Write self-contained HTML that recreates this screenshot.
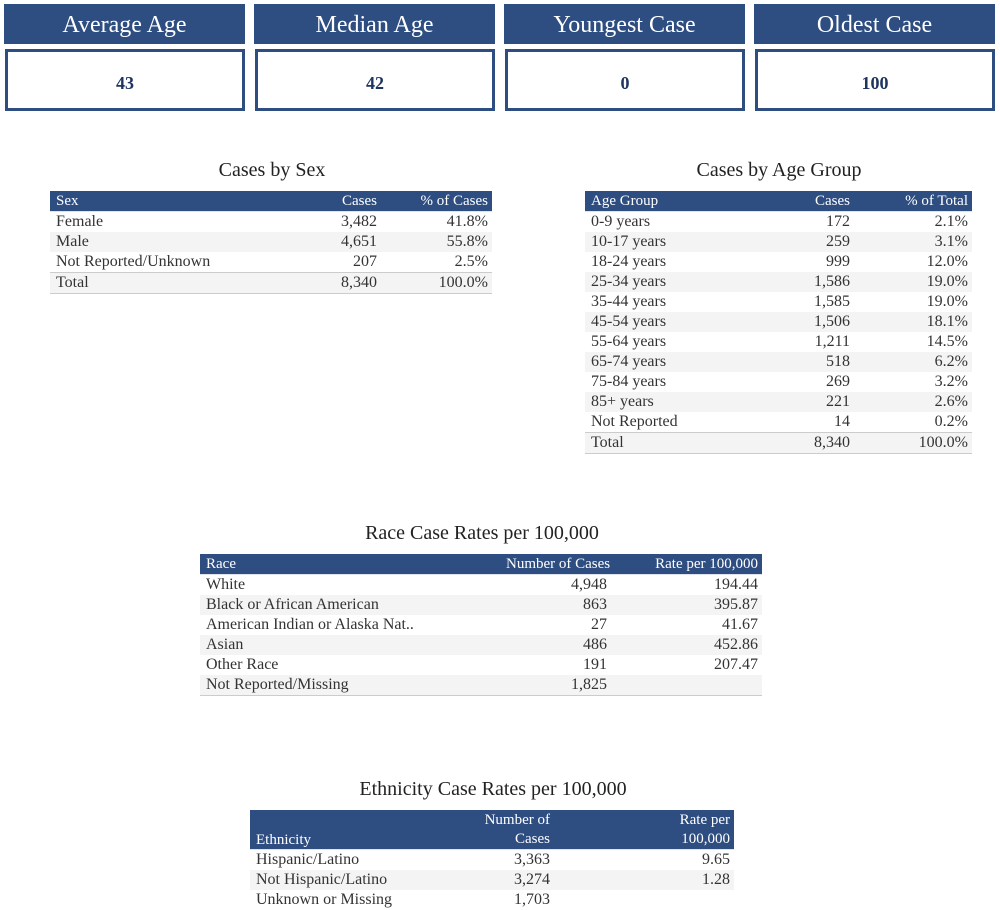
<!DOCTYPE html>
<html><head><meta charset="utf-8"><style>
body{margin:0;width:1000px;height:908px;background:#fff;position:relative;font-family:"Liberation Serif",serif;color:#333;overflow:hidden}
.h{position:absolute;top:4px;width:241px;height:40px;background:#2e4d80;color:#fff;font-size:24px;text-align:center;line-height:43px}
.v{position:absolute;top:49px;width:234px;height:56px;border:3px solid #2e4d80;color:#1f3560;font-weight:bold;font-size:18px;text-align:center;line-height:62px}
.t{position:absolute;font-size:20px;color:#222;text-align:center;width:600px}
table{position:absolute;border-collapse:collapse;table-layout:fixed;font-size:16px}
td,th{height:20px;padding:0 4px 0 6px;line-height:20px;white-space:nowrap;overflow:hidden}
th{background:#2e4d80;color:#fff;font-weight:normal;text-align:left;border-bottom:1px solid #dfe4ec;font-size:15px;overflow:visible}
td.r,th.r{text-align:right}
tr:nth-child(even) td{background:#f4f4f4}
tr.tot td{border-top:1px solid #ccc;border-bottom:1px solid #ccc}
tr.last td{border-bottom:1px solid #ccc}
</style></head><body>
<div class="h" style="left:4px">Average Age</div>
<div class="h" style="left:254px">Median Age</div>
<div class="h" style="left:504px">Youngest Case</div>
<div class="h" style="left:754px">Oldest Case</div>
<div class="v" style="left:5px">43</div>
<div class="v" style="left:255px">42</div>
<div class="v" style="left:505px">0</div>
<div class="v" style="left:755px">100</div>

<div class="t" style="left:-28px;top:159px">Cases by Sex</div>
<table style="left:50px;top:191px;width:442px">
<colgroup><col style="width:270px"><col style="width:61px"><col style="width:111px"></colgroup>
<thead><tr><th>Sex</th><th class="r">Cases</th><th class="r">% of Cases</th></tr></thead>
<tbody>
<tr><td>Female</td><td class="r">3,482</td><td class="r">41.8%</td></tr>
<tr><td>Male</td><td class="r">4,651</td><td class="r">55.8%</td></tr>
<tr><td>Not Reported/Unknown</td><td class="r">207</td><td class="r">2.5%</td></tr>
<tr class="tot"><td>Total</td><td class="r">8,340</td><td class="r">100.0%</td></tr>
</tbody></table>

<div class="t" style="left:479px;top:159px">Cases by Age Group</div>
<table style="left:585px;top:191px;width:387px">
<colgroup><col style="width:200px"><col style="width:69px"><col style="width:118px"></colgroup>
<thead><tr><th>Age Group</th><th class="r">Cases</th><th class="r">% of Total</th></tr></thead>
<tbody>
<tr><td>0-9 years</td><td class="r">172</td><td class="r">2.1%</td></tr>
<tr><td>10-17 years</td><td class="r">259</td><td class="r">3.1%</td></tr>
<tr><td>18-24 years</td><td class="r">999</td><td class="r">12.0%</td></tr>
<tr><td>25-34 years</td><td class="r">1,586</td><td class="r">19.0%</td></tr>
<tr><td>35-44 years</td><td class="r">1,585</td><td class="r">19.0%</td></tr>
<tr><td>45-54 years</td><td class="r">1,506</td><td class="r">18.1%</td></tr>
<tr><td>55-64 years</td><td class="r">1,211</td><td class="r">14.5%</td></tr>
<tr><td>65-74 years</td><td class="r">518</td><td class="r">6.2%</td></tr>
<tr><td>75-84 years</td><td class="r">269</td><td class="r">3.2%</td></tr>
<tr><td>85+ years</td><td class="r">221</td><td class="r">2.6%</td></tr>
<tr><td>Not Reported</td><td class="r">14</td><td class="r">0.2%</td></tr>
<tr class="tot"><td>Total</td><td class="r">8,340</td><td class="r">100.0%</td></tr>
</tbody></table>

<div class="t" style="left:182px;top:522px">Race Case Rates per 100,000</div>
<table style="left:200px;top:554px;width:562px">
<colgroup><col style="width:300px"><col style="width:111px"><col style="width:151px"></colgroup>
<thead><tr><th>Race</th><th class="r">Number of Cases</th><th class="r">Rate per 100,000</th></tr></thead>
<tbody>
<tr><td>White</td><td class="r">4,948</td><td class="r">194.44</td></tr>
<tr><td>Black or African American</td><td class="r">863</td><td class="r">395.87</td></tr>
<tr><td>American Indian or Alaska Nat..</td><td class="r">27</td><td class="r">41.67</td></tr>
<tr><td>Asian</td><td class="r">486</td><td class="r">452.86</td></tr>
<tr><td>Other Race</td><td class="r">191</td><td class="r">207.47</td></tr>
<tr class="last"><td>Not Reported/Missing</td><td class="r">1,825</td><td class="r"></td></tr>
</tbody></table>

<div class="t" style="left:193px;top:778px">Ethnicity Case Rates per 100,000</div>
<table style="left:250px;top:810px;width:484px">
<colgroup><col style="width:200px"><col style="width:104px"><col style="width:180px"></colgroup>
<thead><tr><th style="height:39px;line-height:18px;vertical-align:bottom">Ethnicity</th><th class="r" style="line-height:19px">Number of<br>Cases</th><th class="r" style="line-height:19px">Rate per<br>100,000</th></tr></thead>
<tbody>
<tr><td>Hispanic/Latino</td><td class="r">3,363</td><td class="r">9.65</td></tr>
<tr><td>Not Hispanic/Latino</td><td class="r">3,274</td><td class="r">1.28</td></tr>
<tr><td>Unknown or Missing</td><td class="r">1,703</td><td class="r"></td></tr>
</tbody></table>
</body></html>
